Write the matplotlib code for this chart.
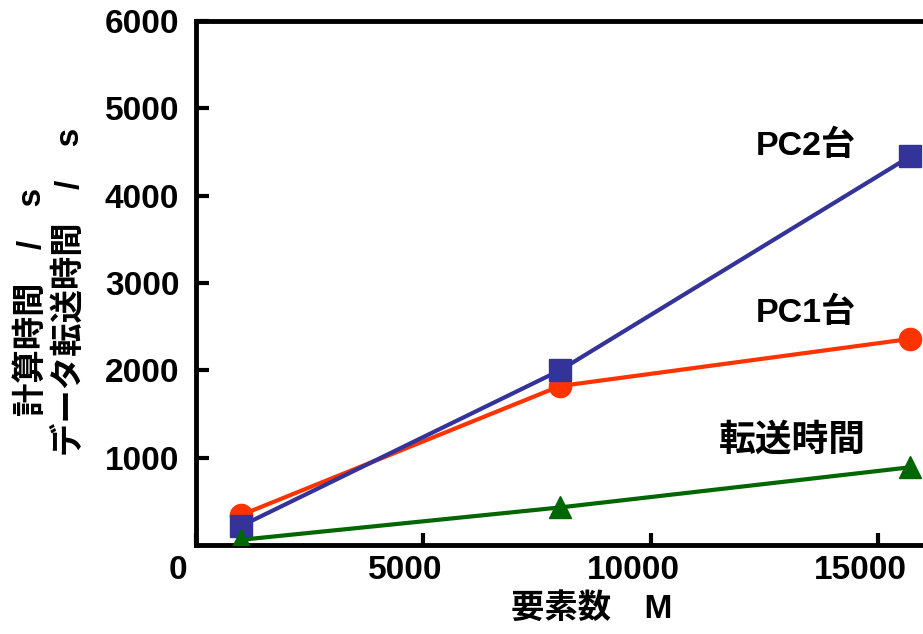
import matplotlib
matplotlib.use("Agg")
import matplotlib.pyplot as plt
import matplotlib.transforms as mtransforms

plt.rcParams['font.family'] = ['Liberation Sans', 'Noto Sans CJK JP', 'DejaVu Sans']

# Element counts (M) and measured times (s)
elements = [1000, 8000, 15700]
pc2_time = [220, 2000, 4450]
pc1_time = [345, 1820, 2360]
transfer_time = [60, 430, 890]

series_labels = ["PC2台", "PC1台", "転送時間"]
x_ticks = [0, 5000, 10000, 15000]
y_ticks = [1000, 2000, 3000, 4000, 5000, 6000]

fig = plt.figure(figsize=(9.23, 6.34), dpi=100)
ax = fig.add_axes([196 / 923, 1 - 545 / 634, (923 - 196) / 923 + 0.002, (545 - 21) / 634])

ax.plot(elements, pc2_time, color='#333399', lw=3, marker='s', ms=16, zorder=3)
ax.plot(elements, pc1_time, color='#FF3300', lw=3, marker='o', ms=16, zorder=2)
ax.plot(elements, transfer_time, color='#006600', lw=3, marker='^', ms=16, zorder=4)

ax.set_xlim(0, 16020)
ax.set_ylim(0, 6000)
ax.set_xticks(x_ticks)
ax.set_yticks(y_ticks)
for s in ['left', 'bottom', 'top']:
    ax.spines[s].set_linewidth(3.5)
ax.spines['right'].set_visible(False)
ax.tick_params(direction='in', length=9, width=3, labelsize=24, pad=12)
ax.tick_params(axis='x', pad=7)
for lab in ax.get_xticklabels() + ax.get_yticklabels():
    lab.set_fontweight('bold')

# x tick labels sit a little left of their ticks
shift = mtransforms.ScaledTranslation(-18 / 100, 0, fig.dpi_scale_trans)
for lab in ax.get_xticklabels():
    lab.set_transform(lab.get_transform() + shift)

cjk = ['Liberation Sans', 'Noto Sans CJK JP']
ax.text(12313, 4575, series_labels[0], ha='left', va='center',
        fontsize=24.5, fontweight='bold', family=cjk)
ax.text(12313, 2655, series_labels[1], ha='left', va='center',
        fontsize=24.5, fontweight='bold', family=cjk)
ax.text(11500, 1184, series_labels[2], ha='left', va='center',
        fontsize=26.5, fontweight='bold', family=cjk)

lab_kw = dict(fontsize=24, fontweight='bold', family=cjk)
fig.text(592 / 923, 1 - 609 / 634, "要素数　M", ha='center', va='center', **lab_kw)
fig.text(32 / 923, 1 - 302 / 634, "計算時間　/　s", ha='center', va='center', rotation=90, **lab_kw)
fig.text(69 / 923, 1 - 292 / 634, "データ転送時間　/　s", ha='center', va='center', rotation=90, **lab_kw)

fig.savefig("out.png", dpi=100)
